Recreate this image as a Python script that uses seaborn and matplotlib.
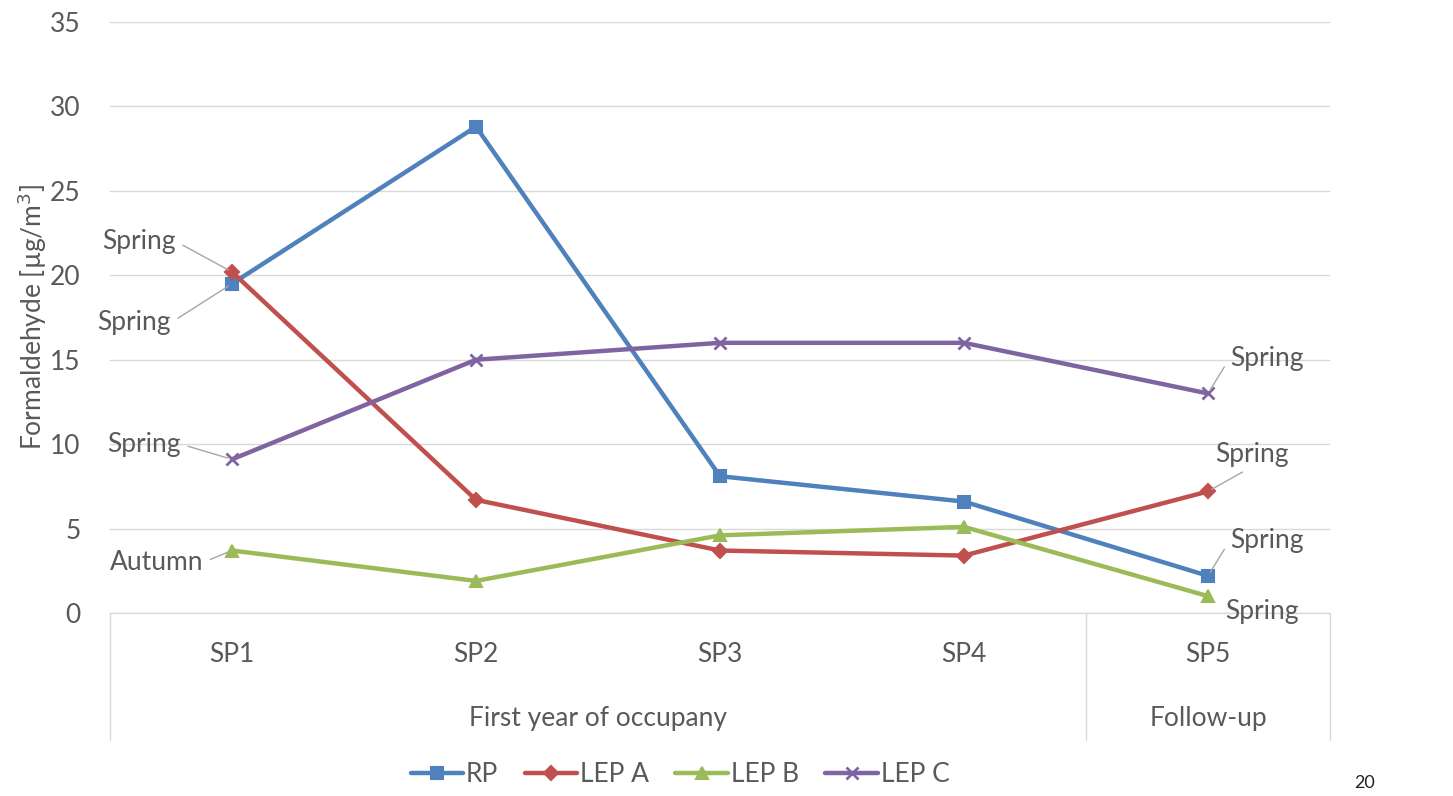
import numpy as np
import pandas as pd
import matplotlib
matplotlib.use("Agg")
import matplotlib.pyplot as plt
import seaborn as sns
from matplotlib.lines import Line2D

# ---- data ----
categories = ["SP1", "SP2", "SP3", "SP4", "SP5"]
rp = [19.5, 28.8, 8.1, 6.6, 2.2]
lep_a = [20.2, 6.7, 3.7, 3.4, 7.2]
lep_b = [3.7, 1.9, 4.6, 5.1, 1.0]
lep_c = [9.1, 15.0, 16.0, 16.0, 13.0]
series_names = ["RP", "LEP A", "LEP B", "LEP C"]
group_labels = ["First year of occupany", "Follow-up"]
y_ticks = [0, 5, 10, 15, 20, 25, 30, 35]

sns.set_theme(style="white")
plt.rcParams["font.family"] = ["Lato", "DejaVu Sans"]

TXT = "#595959"
FS = 19
colors = ["#4F81BD", "#C0504D", "#9BBB59", "#8064A2"]
markers = ["s", "D", "^", "x"]
msizes = [9, 7, 9, 9]

fig = plt.figure(figsize=(14.53, 7.96), dpi=100)
ax = fig.add_axes([110 / 1453, 1 - 613 / 796, (1330 - 110) / 1453, (613 - 22) / 796])

all_vals = [rp, lep_a, lep_b, lep_c]
for name, vals, c, m, ms in zip(series_names, all_vals, colors, markers, msizes):
    df = pd.DataFrame({"cat": categories, "val": vals})
    sns.lineplot(data=df, x="cat", y="val", ax=ax, color=c, linewidth=3.2,
                 marker=m, markersize=ms, markeredgecolor=c, markeredgewidth=1.5 if m != "x" else 2,
                 label=name, sort=False, legend=False)

ax.set_xlim(-0.5, 4.5)
ax.set_ylim(0, 35)
ax.set_yticks(y_ticks)
ax.set_yticklabels([str(t) for t in y_ticks], fontsize=FS, color=TXT)
ax.tick_params(axis="y", length=0, pad=21)
ax.yaxis.grid(True, color="#D9D9D9", linewidth=1)
ax.set_axisbelow(True)
for s in ["top", "right", "left"]:
    ax.spines[s].set_visible(False)
ax.spines["bottom"].set_color("#D9D9D9")
ax.spines["bottom"].set_linewidth(1)
ax.set_xticks(range(len(categories)))
ax.set_xticklabels(categories, fontsize=FS, color=TXT)
ax.tick_params(axis="x", length=0, pad=21)
ax.set_xlabel("")
ax.set_ylabel("Formaldehyde [µg/m$^3$]", fontsize=FS, color=TXT, labelpad=1)

# multi-level category axis
trans = ax.get_xaxis_transform()
for xv in [-0.5, 3.5, 4.5]:
    ax.plot([xv, xv], [0, -0.215], transform=trans, color="#D9D9D9", lw=1, clip_on=False)
ax.text(1.5, -0.178, group_labels[0], transform=trans, ha="center", va="center", fontsize=FS, color=TXT)
ax.text(4.0, -0.178, group_labels[1], transform=trans, ha="center", va="center", fontsize=FS, color=TXT)

# annotations with leader lines
def ann(txt, xy, xytext, relpos):
    ax.annotate(txt, xy=xy, xytext=xytext, fontsize=FS, color=TXT, ha="center", va="center",
                arrowprops=dict(arrowstyle="-", color="#A6A6A6", lw=1, shrinkA=3, shrinkB=3,
                                relpos=relpos))

ann("Spring", (0, lep_a[0]), (-0.38, 22.0), (1.0, 0.5))
ann("Spring", (0, rp[0]), (-0.40, 17.2), (1.0, 0.5))
ann("Spring", (0, lep_c[0]), (-0.36, 10.0), (1.0, 0.5))
ann("Autumn", (0, lep_b[0]), (-0.31, 3.0), (1.0, 0.5))
ann("Spring", (4, lep_c[4]), (4.24, 15.1), (0.0, 0.5))
ann("Spring", (4, lep_a[4]), (4.18, 9.4), (0.5, 0.0))
ann("Spring", (4, rp[4]), (4.24, 4.3), (0.0, 0.5))
ax.text(4.22, 0.1, "Spring", fontsize=FS, color=TXT, ha="center", va="center")

# legend
handles = [Line2D([0], [0], color=c, lw=3.2, marker=m, markersize=ms, markeredgecolor=c,
                  markeredgewidth=1.5 if m != "x" else 2)
           for c, m, ms in zip(colors, markers, msizes)]
leg = fig.legend(handles, series_names, loc="center", bbox_to_anchor=(680 / 1453, 1 - 775 / 796),
                 ncol=4, frameon=False, fontsize=FS, handlelength=2.0, handletextpad=0.1,
                 columnspacing=1.0)
for t in leg.get_texts():
    t.set_color(TXT)

fig.text(1365 / 1453, 1 - 783 / 796, "20", fontsize=13, color="#222222", ha="center", va="center")

fig.savefig("out.png", dpi=100)
